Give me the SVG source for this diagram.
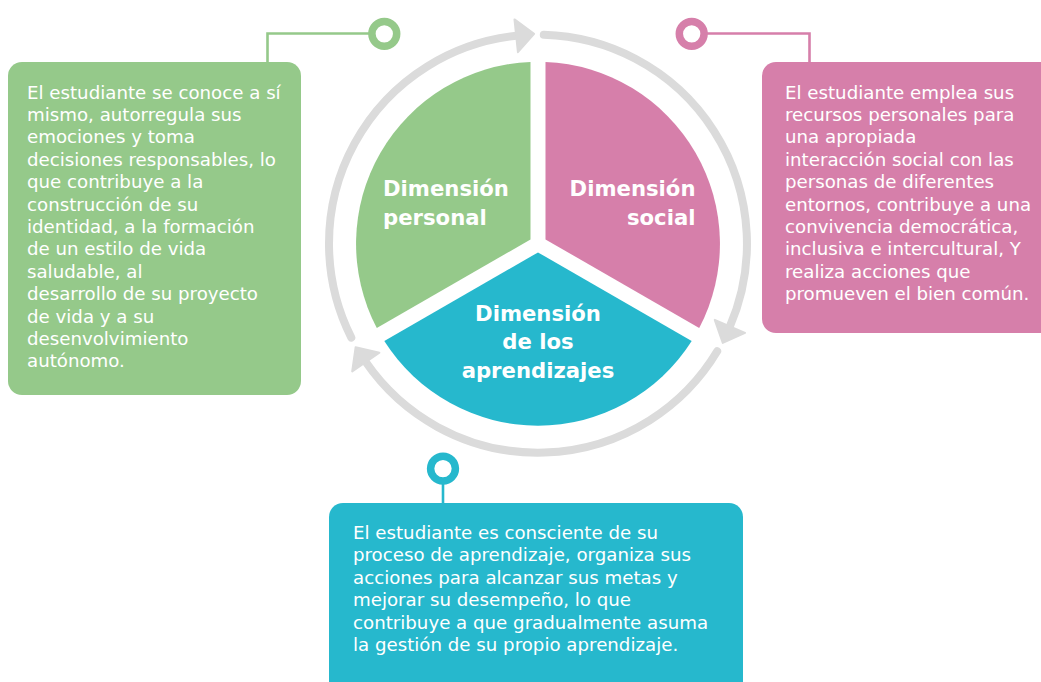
<svg xmlns="http://www.w3.org/2000/svg" width="1041" height="682" viewBox="0 0 1041 682">
  <style>
    .ring { fill: none; stroke: #DBDBDB; stroke-width: 8; stroke-linecap: round; marker-end: url(#arrow); }
    .title { font-family: "DejaVu Sans", sans-serif; font-weight: bold; font-size: 21.2px; fill: #FFFFFF; }
    .body { font-family: "DejaVu Sans", sans-serif; font-size: 18.2px; fill: #FFFFFF; }
    .lnk { fill: none; stroke-width: 2.6; }
    .dot { fill: #FFFFFF; stroke-width: 7.5; }
  </style>
  <defs>
    <marker id="arrow" markerUnits="userSpaceOnUse" viewBox="-3 -21 26 42" refX="0" refY="0" markerWidth="26" markerHeight="42" orient="auto" overflow="visible">
      <path d="M0,-16.5 L18,0 L0,16.5 Z" fill="#DBDBDB" stroke="#DBDBDB" stroke-width="2" stroke-linejoin="round"/>
    </marker>
  </defs>
  <rect width="1041" height="682" fill="#FFFFFF"/>

  <g id="connectors">
    <path class="ring" d="M 351.3 337.6 A 209 209 0 0 1 516.2 35.8"/>
    <path class="ring" d="M 543.8 34.8 A 209 209 0 0 1 729.9 326.4"/>
    <path class="ring" d="M 717.2 351.3 A 209 209 0 0 1 365.8 362.1"/>
    <path class="lnk" stroke="#95C98A" d="M 267.5 62 V 33.5 H 372"/>
    <circle class="dot" stroke="#95C98A" cx="384.3" cy="33.8" r="12.4"/>
    <path class="lnk" stroke="#D67FAA" d="M 704 33.5 H 809.5 V 62"/>
    <circle class="dot" stroke="#D67FAA" cx="691.7" cy="33.8" r="12.4"/>
    <path class="lnk" stroke="#26B8CD" d="M 443 481 V 504"/>
    <circle class="dot" stroke="#26B8CD" cx="443" cy="468.6" r="12.4"/>
  </g>

  <g id="dim-personal">
    <path d="M 530.5 239.4 L 530.5 61.9 A 182 182 0 0 0 376.8 328.1 Z" fill="#95C98A"/>
    <text class="title" x="383" y="196">Dimensión</text>
    <text class="title" x="383" y="225">personal</text>
  </g>

  <g id="dim-social">
    <path d="M 545.5 239.4 L 545.5 61.9 A 182 182 0 0 1 699.2 328.1 Z" fill="#D67FAA"/>
    <text class="title" x="695.5" y="196" text-anchor="end">Dimensión</text>
    <text class="title" x="695.5" y="225" text-anchor="end">social</text>
  </g>

  <g id="dim-aprendizajes">
    <path d="M 538 252.4 L 691.7 341.1 A 182 182 0 0 1 384.3 341.1 Z" fill="#26B8CD"/>
    <text class="title" x="538" y="320.5" text-anchor="middle">Dimensión</text>
    <text class="title" x="538" y="349.3" text-anchor="middle">de los</text>
    <text class="title" x="538" y="378" text-anchor="middle">aprendizajes</text>
  </g>

  <g id="box-personal">
    <rect x="8" y="62" width="293" height="333" rx="14" fill="#95C98A"/>
    <text class="body">
      <tspan x="27" y="98.5">El estudiante se conoce a sí</tspan>
      <tspan x="27" y="120.9">mismo, autorregula sus</tspan>
      <tspan x="27" y="143.3">emociones y toma</tspan>
      <tspan x="27" y="165.7">decisiones responsables, lo</tspan>
      <tspan x="27" y="188.1">que contribuye a la</tspan>
      <tspan x="27" y="210.5">construcción de su</tspan>
      <tspan x="27" y="232.9">identidad, a la formación</tspan>
      <tspan x="27" y="255.3">de un estilo de vida</tspan>
      <tspan x="27" y="277.7">saludable, al</tspan>
      <tspan x="27" y="300.1">desarrollo de su proyecto</tspan>
      <tspan x="27" y="322.5">de vida y a su</tspan>
      <tspan x="27" y="344.9">desenvolvimiento</tspan>
      <tspan x="27" y="367.3">autónomo.</tspan>
    </text>
  </g>

  <g id="box-social">
    <rect x="762" y="62" width="300" height="271" rx="14" fill="#D67FAA"/>
    <text class="body">
      <tspan x="785" y="98.5">El estudiante emplea sus</tspan>
      <tspan x="785" y="120.9">recursos personales para</tspan>
      <tspan x="785" y="143.3">una apropiada</tspan>
      <tspan x="785" y="165.7">interacción social con las</tspan>
      <tspan x="785" y="188.1">personas de diferentes</tspan>
      <tspan x="785" y="210.5">entornos, contribuye a una</tspan>
      <tspan x="785" y="232.9">convivencia democrática,</tspan>
      <tspan x="785" y="255.3">inclusiva e intercultural, Y</tspan>
      <tspan x="785" y="277.7">realiza acciones que</tspan>
      <tspan x="785" y="300.1">promueven el bien común.</tspan>
    </text>
  </g>

  <g id="box-aprendizajes">
    <rect x="329" y="503" width="414" height="200" rx="14" fill="#26B8CD"/>
    <text class="body">
      <tspan x="353" y="539">El estudiante es consciente de su</tspan>
      <tspan x="353" y="561.4">proceso de aprendizaje, organiza sus</tspan>
      <tspan x="353" y="583.8">acciones para alcanzar sus metas y</tspan>
      <tspan x="353" y="606.2">mejorar su desempeño, lo que</tspan>
      <tspan x="353" y="628.6">contribuye a que gradualmente asuma</tspan>
      <tspan x="353" y="651">la gestión de su propio aprendizaje.</tspan>
    </text>
  </g>
</svg>
